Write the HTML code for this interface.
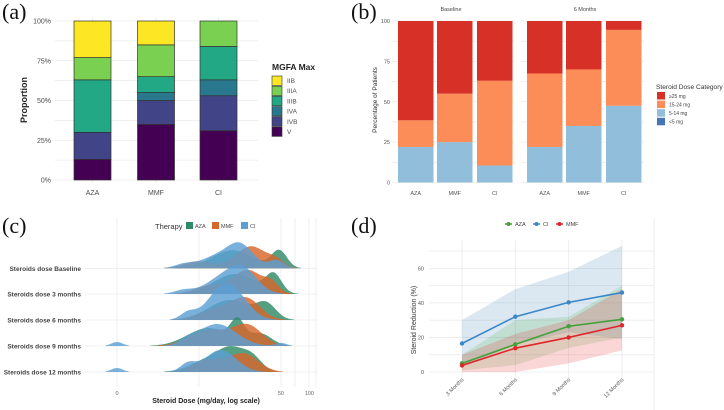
<!DOCTYPE html>
<html><head><meta charset="utf-8">
<style>
html,body{margin:0;padding:0;background:#fff;}
svg{display:block;font-family:"Liberation Sans",sans-serif;}
.tick{font-size:7px;fill:#4d4d4d;}
.grid{stroke:#ebebeb;stroke-width:0.8;}
.lab{font-family:"Liberation Serif",serif;font-size:22px;fill:#111;}
</style></head>
<body>
<svg id="fig" width="724" height="410" viewBox="0 0 724 410">
<text class="lab" x="2" y="19">(a)</text>
<text class="lab" x="351" y="19">(b)</text>
<text class="lab" x="2" y="233">(c)</text>
<text class="lab" x="351" y="233">(d)</text>
<g id="pa"></g>
<g id="pb"></g>
<g id="pc"></g>
<g id="pd"></g>
</svg>
<script>
// ---------- Panel A data ----------
const aCategories = ["AZA","MMF","CI"];
const aClasses = ["V","IVB","IVA","IIIB","IIIA","IIB"];
const aV    = [13, 35, 31];
const aIVB  = [17, 15, 22];
const aIVA  = [0, 5, 10];
const aIIIB = [33, 10, 21];
const aIIIA = [14, 20, 16];
const aIIB  = [23, 15, 0];
const aTicks = ["0%","25%","50%","75%","100%"];
// ---------- Panel B data ----------
const bFacets = ["Baseline","6 Months"];
const bGroups = ["AZA","MMF","CI"];
const bLow5   = [0,0,0, 0,0,0];
const b5to14  = [22,25,10.5, 22,35,47.5];
const b15to24 = [16.5,30,52.5, 45.5,35,47];
const bGe25   = [61.5,45,37, 32.5,30,5.5];
const bTicks = [0,25,50,75,100];
// ---------- Panel C data (components: dose mean, log10 sd, height) ----------
const cRows = ["Steroids dose Baseline","Steroids dose 3 months","Steroids dose 6 months","Steroids dose 9 months","Steroids dose 12 months"];
const cAZAmeans = [[15,48],[16,42],[14,35],[8,17,30],[8,15,25]];
const cAZAsd    = [[.22,.08],[.22,.08],[.22,.1],[.22,.07,.12],[.18,.14,.1]];
const cAZAh     = [[18,17],[20,18],[20,14],[18,20,12],[12,20,12]];
const cMMFmeans = [[6,24,45],[8,22,40],[11,22],[8,22],[8,20]];
const cMMFsd    = [[.15,.16,.08],[.15,.16,.07],[.2,.14],[.2,.15],[.16,.15]];
const cMMFh     = [[7,22,6],[8,24,8],[12,18],[16,20],[12,18]];
const cCImeans  = [[4,9,18,45],[4,10,19],[4.5,10,15],[0,4.5,10,50],[0,4.5,11]];
const cCIsd     = [[.1,.15,.14,.08],[.1,.15,.15],[.08,.15,.16],[.06,.08,.2,.06],[.06,.08,.16]];
const cCIh      = [[4,10,24,8],[4,12,26],[7,16,26],[4,4,22,3],[4,8,22]];
const cTicks = [0,50,100];
// ---------- Panel D data ----------
const dTimes = ["3 Months","6 Months","9 Months","12 Months"];
const dAZA = [5,16,26.5,30.5];
const dCI  = [16.5,32,40.3,46];
const dMMF = [3.8,13.8,20,27];
const dAZAlo = [1,4,14,20], dAZAhi = [10,30,32,50];
const dCIlo  = [3,16,23,19], dCIhi  = [30,48,58,73];
const dMMFlo = [0,0,5,12.5], dMMFhi = [10,22,30,48];
const dTicks = [0,20,40,60];

const NS="http://www.w3.org/2000/svg";
function mk(parent,tag,attrs,text){const e=document.createElementNS(NS,tag);for(const k in attrs)e.setAttribute(k,attrs[k]);if(text!==undefined)e.textContent=text;parent.appendChild(e);return e;}

// ===== Panel A =====
(function(){
const g=document.getElementById('pa');
const y=v=>180-v/100*159;
const xc=[92.5,156,218.5], bw=37;
for(let v=0;v<=100;v+=12.5){const l=mk(g,'line',{x1:55,x2:258,y1:y(v),y2:y(v),class:'grid'});

}
xc.forEach(x=>{const l=mk(g,'line',{x1:x,x2:x,y1:17,y2:183,class:'grid'});

});
aTicks.forEach((t,i)=>{const e=mk(g,'text',{x:51,y:y(i*25)+2.5,'text-anchor':'end',class:'tick'},t);

});
const yt=mk(g,'text',{x:0,y:0,transform:'translate(27,100) rotate(-90)','text-anchor':'middle','font-size':'9','font-weight':'bold',fill:'#222'},'Proportion');


const series=[aV,aIVB,aIVA,aIIIB,aIIIA,aIIB];
const cols=["#440154","#414487","#2a788e","#22a884","#7ad151","#fde725"];
aCategories.forEach((c,i)=>{let acc=0;series.forEach((s,k)=>{if(s[i]>0){const r=mk(g,'rect',{x:xc[i]-bw/2,y:y(acc+s[i]),width:bw,height:s[i]/100*159,fill:cols[k],stroke:'#333','stroke-width':0.7});

}acc+=s[i];});
const t=mk(g,'text',{x:xc[i],y:195,'text-anchor':'middle',class:'tick'},c);

});
const lt=mk(g,'text',{x:272,y:70,'font-size':'8.5','font-weight':'bold',fill:'#222'},'MGFA Max');


const order=[5,4,3,2,1,0];
order.forEach((k,j)=>{const yy=76+j*10.2;const r=mk(g,'rect',{x:272,y:yy,width:10,height:9.4,fill:cols[k],stroke:'#333','stroke-width':0.6});


const t=mk(g,'text',{x:287,y:yy+7,'font-size':'6.5',fill:'#4d4d4d'},aClasses[k]);

});
})();

// ===== Panel B =====
(function(){
const g=document.getElementById('pb');
const y=v=>182.5-v/100*161.5;
const xs=[398,437,477,527,566,606], bw=35.5;
for(let v=0;v<=100;v+=12.5){[[392,514],[521,644]].forEach(r=>{const l=mk(g,'line',{x1:r[0],x2:r[1],y1:y(v),y2:y(v),class:'grid'});

});}
bTicks.forEach(t=>{const e=mk(g,'text',{x:390,y:y(t)+2,'text-anchor':'end','font-size':'5.5',fill:'#555'},t);

});
const yt=mk(g,'text',{x:0,y:0,transform:'translate(377,100) rotate(-90)','text-anchor':'middle','font-size':'6.5',fill:'#333'},'Percentage of Patients');


bFacets.forEach((f,i)=>{const t=mk(g,'text',{x:i?585:451,y:11,'text-anchor':'middle','font-size':'5.5',fill:'#444'},f);

});
const series=[bLow5,b5to14,b15to24,bGe25];
const cols=["#4575b4","#91bfdb","#fc8d59","#d73027"];
xs.forEach((x,i)=>{let acc=0;series.forEach((s,k)=>{if(s[i]>0){const r=mk(g,'rect',{x:x,y:y(acc+s[i]),width:bw,height:s[i]/100*161.5,fill:cols[k]});

}acc+=s[i];});
const t=mk(g,'text',{x:x+bw/2,y:195,'text-anchor':'middle','font-size':'5.5',fill:'#555'},bGroups[i%3]);

});
const lt=mk(g,'text',{x:656,y:89,'font-size':'6.6',fill:'#333'},'Steroid Dose Category');


const labs=["≥25 mg","15-24 mg","5-14 mg","<5 mg"], lc=["#d73027","#fc8d59","#91bfdb","#4575b4"];
labs.forEach((l,j)=>{const yy=92+j*8.6;const r=mk(g,'rect',{x:657,y:yy,width:8,height:7.5,fill:lc[j]});


const t=mk(g,'text',{x:669,y:yy+5.8,'font-size':'5',fill:'#444'},l);

});
})();

// ===== Panel C =====
(function(){
const g=document.getElementById('pc');
const xs=d=>117+96*Math.log10(d+1);
const base=[268.3,294,320,346,372];
[117,199,281,295,309,316].forEach(x=>{const l=mk(g,'line',{x1:x,x2:x,y1:218,y2:387,class:'grid'});

});
base.forEach(b=>{const l=mk(g,'line',{x1:85,x2:318,y1:b,y2:b,class:'grid'});

});
const sets=[[cAZAmeans,cAZAsd,cAZAh,'#2f8a68','AZA'],[cMMFmeans,cMMFsd,cMMFh,'#d8652a','MMF'],[cCImeans,cCIsd,cCIh,'#5b9fd4','CI']];
cRows.forEach((r,i)=>{
 sets.forEach(s=>{
  const m=s[0][i],sd=s[1][i],h=s[2][i];
  let pts=[];
  for(let lx=-0.25;lx<=2.1;lx+=0.01){let v=0;m.forEach((mm,k)=>{const z=(lx-Math.log10(mm+1))/sd[k];v+=h[k]*Math.exp(-0.5*z*z);});
   if(v>0.4)pts.push([lx,v]);else pts.push([lx,0]);}
  let d='';let inside=false;
  pts.forEach(p=>{const X=117+96*p[0],Y=base[i]-p[1];
   if(p[1]>0){if(!inside){d+='M'+X.toFixed(1)+','+base[i]+'L';inside=true;}d+=X.toFixed(1)+','+Y.toFixed(1)+' ';}
   else if(inside){d+=X.toFixed(1)+','+base[i]+'Z';inside=false;}});
  const p=mk(g,'path',{d:d,fill:s[3],'fill-opacity':0.82});
  
  
 });
 const t=mk(g,'text',{x:81,y:base[i]+2.5,'text-anchor':'end','font-size':'6.5','font-weight':'bold',fill:'#444'},r);
 
 
});
cTicks.forEach(t=>{const e=mk(g,'text',{x:xs(t),y:395,'text-anchor':'middle','font-size':'5.5',fill:'#666'},t);

});
const xt=mk(g,'text',{x:206,y:403,'text-anchor':'middle','font-size':'7','font-weight':'bold',fill:'#222'},'Steroid Dose (mg/day, log scale)');


const lt=mk(g,'text',{x:155,y:229,'font-size':'7.5',fill:'#333'},'Therapy');


[['AZA','#2f8a68',186],['MMF','#d8652a',212],['CI','#5b9fd4',241]].forEach(e=>{
const r=mk(g,'rect',{x:e[2],y:222,width:7,height:7,fill:e[1]});


const t=mk(g,'text',{x:e[2]+9,y:228,'font-size':'5.5',fill:'#444'},e[0]);

});
})();

// ===== Panel D =====
(function(){
const g=document.getElementById('pd');
const y=v=>372-v*1.7275;
const x=i=>462+i*53.33;
for(let v=0;v<=70;v+=10){const l=mk(g,'line',{x1:429,x2:654,y1:y(v),y2:y(v),class:'grid'});

}
[0,1,2,3].forEach(i=>{const l=mk(g,'line',{x1:x(i),x2:x(i),y1:240,y2:378,class:'grid'});

});
const edge=mk(g,'line',{x1:654,x2:654,y1:218,y2:410,stroke:'#e8e8e8','stroke-width':0.8});


const bands=[[dCIlo,dCIhi,'#377eb8'],[dAZAlo,dAZAhi,'#4daf4a'],[dMMFlo,dMMFhi,'#e41a1c']];
bands.forEach(b=>{let d='';b[1].forEach((v,i)=>{d+=(i?'L':'M')+x(i)+','+y(v);});
for(let i=b[0].length-1;i>=0;i--)d+='L'+x(i)+','+y(b[0][i]);d+='Z';
const p=mk(g,'path',{d:d,fill:b[2],'fill-opacity':0.18});

});
const lines=[[dCI,'#3a87c8','CI'],[dAZA,'#43a13a','AZA'],[dMMF,'#e0262a','MMF']];
lines.forEach(L=>{const pl=mk(g,'polyline',{points:L[0].map((v,i)=>x(i)+','+y(v)).join(' '),fill:'none',stroke:L[1],'stroke-width':1.6});


L[0].forEach((v,i)=>{const c=mk(g,'circle',{cx:x(i),cy:y(v),r:2.2,fill:L[1]});

});});
dTicks.forEach(t=>{const e=mk(g,'text',{x:424,y:y(t)+2,'text-anchor':'end','font-size':'5.5',fill:'#555'},t);

});
dTimes.forEach((t,i)=>{const e=mk(g,'text',{x:0,y:0,transform:'translate('+(x(i)+2)+',380) rotate(-45)','text-anchor':'end','font-size':'5.5',fill:'#555'},t);

});
const yt=mk(g,'text',{x:0,y:0,transform:'translate(416,320) rotate(-90)','text-anchor':'middle','font-size':'7',fill:'#333'},'Steroid Reduction (%)');


[['AZA','#43a13a',505],['CI','#3a87c8',533],['MMF','#e0262a',556]].forEach(e=>{
const l=mk(g,'line',{x1:e[2],x2:e[2]+7,y1:224,y2:224,stroke:e[1],'stroke-width':1.5});


const c=mk(g,'circle',{cx:e[2]+3.5,cy:224,r:2,fill:e[1]});


const t=mk(g,'text',{x:e[2]+10,y:226,'font-size':'5.5',fill:'#444'},e[0]);

});
})();
</script>
</body></html>
